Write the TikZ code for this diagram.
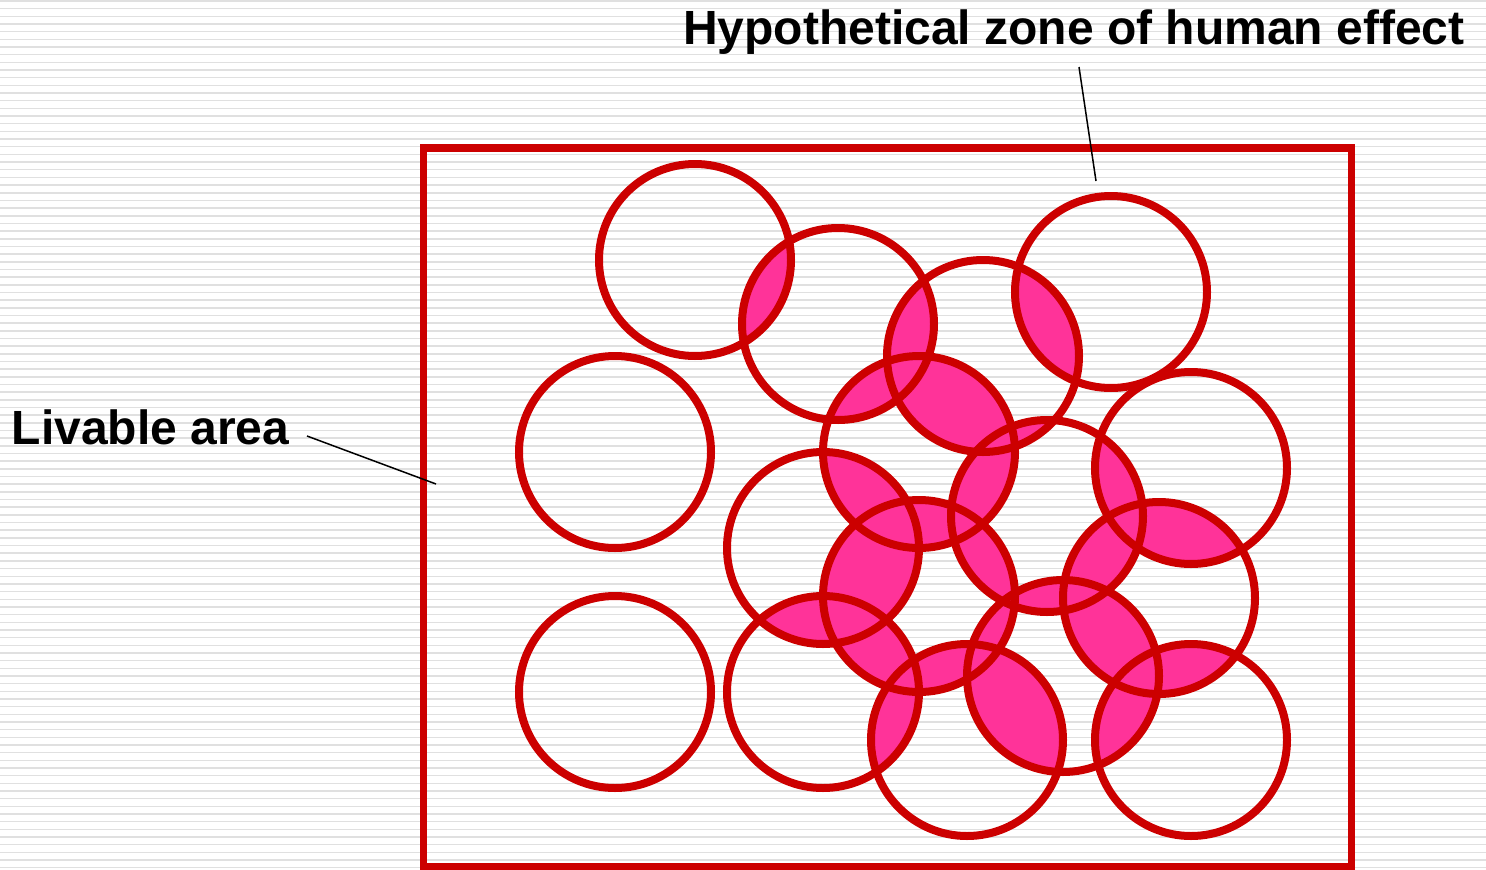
\documentclass[tikz,border=0pt]{standalone}
\usepackage{fontspec}
\setmainfont{Liberation Sans}
\definecolor{zred}{HTML}{CC0000}
\definecolor{zpink}{HTML}{FF3399}
\definecolor{stripe}{HTML}{E0E0E0}
\begin{document}
\begin{tikzpicture}[x=1pt,y=-1pt,
  ring/.style={draw=zred,line width=8pt},
  lead/.style={draw=black,line width=1.5pt},
  lbl/.style={inner sep=0pt,font=\fontsize{48}{58}\selectfont\bfseries}]
\useasboundingbox (0,0) rectangle (1486,870);
% background stripes
\foreach \i in {0,...,113}{
  \draw[stripe,line width=1.5pt] (0,{1+7.67*\i}) -- (1486,{1+7.67*\i});
}
% circle centres
\coordinate (c1) at (695,260);
\coordinate (c2) at (838,324);
\coordinate (c3) at (983,356);
\coordinate (c4) at (1111,292);
\coordinate (c5) at (615,452);
\coordinate (c6) at (919,452);
\coordinate (c7) at (1191,468);
\coordinate (c8) at (823,548);
\coordinate (c9) at (1047,516);
\coordinate (c10) at (919,596);
\coordinate (c11) at (1159,598);
\coordinate (c12) at (615,692);
\coordinate (c13) at (823,692);
\coordinate (c14) at (1063,676);
\coordinate (c15) at (967,740);
\coordinate (c16) at (1191,740);
% pairwise overlaps
\foreach \i in {1,...,15}{
  \pgfmathtruncatemacro\j{\i+1}
  \foreach \k in {\j,...,16}{
    \begin{scope}
      \clip (c\i) circle[radius=96pt];
      \fill[zpink] (c\k) circle[radius=96pt];
    \end{scope}
  }
}
% rings
\foreach \i in {1,...,16}{
  \draw[ring] (c\i) circle[radius=96pt];
}
% livable area frame
\draw[zred,line width=7.5pt] (423.5,148) rectangle (1351.5,866.5);
% labels
\node[lbl,anchor=base west] (hyp) at (683,44) {Hypothetical zone of human effect};
\node[lbl,anchor=base west] (liv) at (11.5,444) {Livable area};
\coordinate (hypA) at (1079,67);
\coordinate (hypB) at (1096,181);
\coordinate (livA) at (307,436);
\coordinate (livB) at (436,484);
\draw[lead] (hypA) -- (hypB);
\draw[lead] (livA) -- (livB);
\end{tikzpicture}
\end{document}
